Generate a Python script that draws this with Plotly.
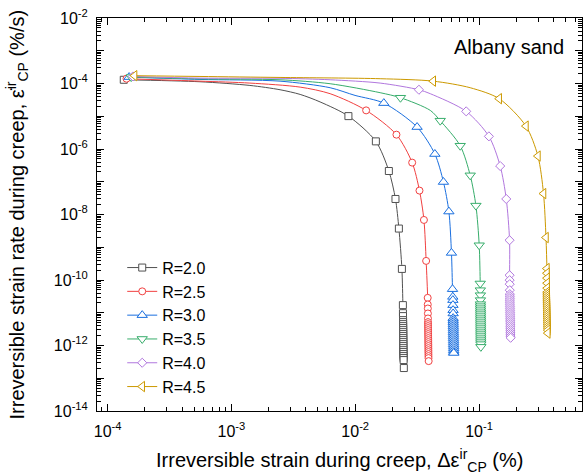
import plotly.graph_objects as go

# ---------------- data ----------------
labels = ["R=2.0", "R=2.5", "R=3.0", "R=3.5", "R=4.0", "R=4.5"]

# R = 2.0  (markers)
r20_mx = [1.35e-4, 8.81e-3, 0.01468, 0.0187, 0.02114, 0.02253, 0.02383, 0.02427, 0.0243, 0.02432,
          0.02435, 0.02436, 0.02437, 0.02438, 0.02439, 0.0244, 0.02441, 0.02442, 0.02443, 0.02444,
          0.02445, 0.02446, 0.02447, 0.02448, 0.02449, 0.0245, 0.02452, 0.02454, 0.02456, 0.02458,
          0.0246, 0.0247]
r20_my = [1.30e-4, 1.01e-5, 1.71e-6, 2.13e-7, 2.98e-8, 3.72e-9, 2.18e-10, 1.71e-11, 9.7e-12, 7.9e-12,
          5.95e-12, 5.18e-12, 4.5e-12, 3.91e-12, 3.40e-12, 2.95e-12, 2.56e-12, 2.23e-12, 1.94e-12, 1.68e-12,
          1.46e-12, 1.27e-12, 1.10e-12, 9.6e-13, 8.3e-13, 7.2e-13, 6.3e-13, 5.47e-13, 4.75e-13, 4.13e-13,
          3.59e-13, 2.05e-13]
# R = 2.0  (extra points along the curve, no marker)
r20_cx = [5.57e-4, 1.41e-3, 2.47e-3, 3.59e-3, 5.2e-3]
r20_cy = [1.13e-4, 8.73e-5, 6.45e-5, 4.64e-5, 2.74e-5]

# R = 2.5
r25_mx = [1.42e-4, 0.01225, 0.02153, 0.02884, 0.03304, 0.0359, 0.0374,
          0.0385, 0.03855, 0.0386, 0.03865, 0.0387,
          0.03872, 0.03874, 0.03876, 0.03878, 0.0388, 0.03882, 0.03884, 0.03886, 0.03888, 0.0389,
          0.03892, 0.03894, 0.03896, 0.03898, 0.039, 0.03902, 0.03904, 0.03906, 0.03908, 0.0392]
r25_my = [1.40e-4, 1.51e-5, 2.74e-6, 3.84e-7, 5.37e-8, 6.82e-9, 3.83e-10,
          2.85e-11, 1.79e-11, 1.35e-11, 9.5e-12, 6.7e-12,
          5.18e-12, 4.5e-12, 3.91e-12, 3.40e-12, 2.95e-12, 2.56e-12, 2.23e-12, 1.94e-12, 1.68e-12, 1.46e-12,
          1.27e-12, 1.10e-12, 9.6e-13, 8.3e-13, 7.2e-13, 6.3e-13, 5.47e-13, 4.75e-13, 4.13e-13, 3.34e-13]
r25_cx = [5.57e-4, 1.41e-3, 3.59e-3, 6.27e-3]
r25_cy = [1.18e-4, 1.03e-4, 7.76e-5, 4.88e-5]

# R = 3.0
r30_mx = [1.49e-4, 0.01703, 0.0316, 0.0440, 0.0516, 0.0571, 0.0599, 0.0611,
          0.0614, 0.0615, 0.0616, 0.0617, 0.0618,
          0.0618, 0.0619, 0.0619, 0.062, 0.062, 0.0621, 0.0621, 0.0621, 0.0622, 0.0622,
          0.0622, 0.0623, 0.0623, 0.0623, 0.0624, 0.0624, 0.0624, 0.0625, 0.0625]
r30_my = [1.57e-4, 2.52e-5, 4.68e-6, 7.02e-7, 9.82e-8, 1.23e-8, 6.71e-10, 5.25e-11,
          3.05e-11, 2.43e-11, 1.71e-11, 1.20e-11, 9.5e-12,
          6.85e-12, 5.95e-12, 5.18e-12, 4.5e-12, 3.91e-12, 3.40e-12, 2.95e-12, 2.56e-12, 2.23e-12, 1.94e-12,
          1.68e-12, 1.46e-12, 1.27e-12, 1.10e-12, 9.6e-13, 8.3e-13, 7.2e-13, 6.3e-13, 5.9e-13]
r30_cx = [5.57e-4, 2.47e-3, 6.27e-3, 9.97e-3]
r30_cy = [1.33e-4, 1.18e-4, 7.43e-5, 4.33e-5]

# R = 3.5
r35_mx = [1.55e-4, 0.0232, 0.0486, 0.0705, 0.0849, 0.0944, 0.1004, 0.1023,
          0.1025, 0.1026, 0.1027,
          0.1027, 0.1028, 0.1028, 0.1029, 0.1029, 0.103, 0.103, 0.103, 0.1031, 0.1031, 0.1031,
          0.1032, 0.1032, 0.1032, 0.1033, 0.1033, 0.1033, 0.1034, 0.1034, 0.1034, 0.1035, 0.1035]
r35_my = [1.57e-4, 3.68e-5, 7.33e-6, 1.26e-6, 1.57e-7, 1.87e-8, 1.15e-9, 7.83e-11,
          4.89e-11, 3.44e-11, 2.43e-11,
          1.83e-11, 1.59e-11, 1.38e-11, 1.20e-11, 1.04e-11, 9.08e-12, 7.9e-12, 6.85e-12, 5.95e-12, 5.18e-12, 4.5e-12,
          3.91e-12, 3.40e-12, 2.95e-12, 2.56e-12, 2.23e-12, 1.94e-12, 1.68e-12, 1.46e-12, 1.27e-12, 1.10e-12, 9.1e-13]
r35_cx = [5.57e-4, 2.47e-3, 6.27e-3, 0.0159, 0.0404]
r35_cy = [1.38e-4, 1.30e-4, 9.84e-5, 5.24e-5, 1.51e-5]

# R = 4.0
r40_mx = [1.60e-4, 0.0327, 0.0788, 0.1202, 0.1483, 0.166, 0.1765,
          0.1766, 0.1768, 0.177, 0.1772,
          0.1773, 0.1774, 0.1775, 0.1776, 0.1777, 0.1778, 0.1779, 0.178, 0.1781, 0.1782, 0.1783,
          0.1784, 0.1785, 0.1786, 0.1787, 0.1788, 0.1789, 0.179, 0.1791, 0.1792, 0.1793, 0.1794, 0.18]
r40_my = [1.64e-4, 6.45e-5, 1.41e-5, 2.43e-6, 3.02e-7, 2.98e-8, 1.64e-9,
          1.40e-10, 9.9e-11, 7.46e-11, 4.89e-11,
          3.70e-11, 3.21e-11, 2.79e-11, 2.43e-11, 2.11e-11, 1.83e-11, 1.59e-11, 1.38e-11, 1.20e-11, 1.04e-11, 9.08e-12,
          7.9e-12, 6.85e-12, 5.95e-12, 5.18e-12, 4.5e-12, 3.91e-12, 3.40e-12, 2.95e-12, 2.56e-12, 2.23e-12, 1.94e-12,
          1.72e-12]
r40_cx = [5.57e-4, 2.47e-3, 6.27e-3, 0.0159, 0.0404]
r40_cy = [1.46e-4, 1.44e-4, 1.30e-4, 1.03e-4, 4.88e-5]

# R = 4.5
r45_mx = [1.65e-4, 0.0427, 0.1456, 0.2394, 0.2992, 0.332, 0.3476, 0.3537,
          0.354, 0.3545, 0.355, 0.3553,
          0.3555, 0.3557, 0.3559, 0.3561, 0.3563, 0.3565, 0.3567, 0.3569, 0.3571, 0.3573,
          0.3575, 0.3577, 0.3579, 0.3581, 0.3583, 0.3585, 0.3587, 0.3589, 0.3591, 0.3593, 0.3595]
r45_my = [1.73e-4, 1.18e-4, 3.44e-5, 5.01e-6, 6.09e-7, 4.35e-8, 1.98e-9, 2.24e-10,
          1.61e-10, 1.14e-10, 8.0e-11, 5.64e-11,
          4.25e-11, 3.70e-11, 3.21e-11, 2.79e-11, 2.43e-11, 2.11e-11, 1.83e-11, 1.59e-11, 1.38e-11, 1.20e-11,
          1.04e-11, 9.08e-12, 7.9e-12, 6.85e-12, 5.95e-12, 5.18e-12, 4.5e-12, 3.91e-12, 3.40e-12, 2.95e-12, 2.39e-12]
r45_cx = [5.57e-4, 2.47e-3, 0.0159, 0.0849]
r45_cy = [1.64e-4, 1.53e-4, 1.40e-4, 7.43e-5]

x_tick_text = ["10<sup>-4</sup>", "10<sup>-3</sup>", "10<sup>-2</sup>", "10<sup>-1</sup>"]
y_tick_text = ["10<sup>-14</sup>", "", "10<sup>-12</sup>", "", "10<sup>-10</sup>", "",
               "10<sup>-8</sup>", "", "10<sup>-6</sup>", "", "10<sup>-4</sup>", "", "10<sup>-2</sup>"]

# ---------------- styling ----------------
colors = ["#515151", "#F14040", "#1A6FDF", "#37AD6B", "#B177DE", "#CC9900"]
symbols = ["square", "circle", "triangle-up", "triangle-down", "diamond", "triangle-left"]
sizes = [7, 7, 9, 9, 7, 9]
FONT = "Liberation Sans, Arial, sans-serif"

series = [
    (r20_mx, r20_my, r20_cx, r20_cy),
    (r25_mx, r25_my, r25_cx, r25_cy),
    (r30_mx, r30_my, r30_cx, r30_cy),
    (r35_mx, r35_my, r35_cx, r35_cy),
    (r40_mx, r40_my, r40_cx, r40_cy),
    (r45_mx, r45_my, r45_cx, r45_cy),
]

fig = go.Figure()

# legend-only entries
for i, lab in enumerate(labels):
    fig.add_trace(go.Scatter(
        x=[None], y=[None], mode="lines+markers", name=lab, legendgroup=lab,
        line=dict(color=colors[i], width=1),
        marker=dict(symbol=symbols[i], size=sizes[i], color="white",
                    line=dict(color=colors[i], width=1)),
    ))

for i, (mx, my, cx, cy) in enumerate(series):
    pts = sorted(list(zip(mx, my)) + list(zip(cx, cy)), key=lambda p: -p[1])
    fig.add_trace(go.Scatter(
        x=[p[0] for p in pts], y=[p[1] for p in pts], mode="lines",
        line=dict(color=colors[i], width=1, shape="spline", smoothing=0.8),
        showlegend=False, legendgroup=labels[i], hoverinfo="skip",
    ))
    fig.add_trace(go.Scatter(
        x=mx, y=my, mode="markers", showlegend=False, legendgroup=labels[i],
        marker=dict(symbol=symbols[i], size=sizes[i], color="white",
                    line=dict(color=colors[i], width=1)),
    ))

x_major = [1e-4, 1e-3, 1e-2, 1e-1]
x_minor = [m * 10.0 ** e for e in range(-5, 0) for m in range(2, 10)]
y_major = [10.0 ** e for e in range(-14, -1)]
y_minor = [m * 10.0 ** e for e in range(-14, -2) for m in range(2, 10)]

axis_common = dict(
    type="log", showline=True, linecolor="black", linewidth=1, mirror="allticks",
    ticks="inside", ticklen=7, tickwidth=1, tickcolor="black", showgrid=False,
    zeroline=False, tickfont=dict(family=FONT, size=16, color="black"),
)

fig.update_xaxes(
    **axis_common, range=[-4.086, -0.168], tickmode="array", tickvals=x_major,
    ticktext=x_tick_text, ticklabelstandoff=6,
    minor=dict(ticks="inside", ticklen=4, tickwidth=1, tickcolor="black",
               tickmode="array", tickvals=x_minor, showgrid=False),
)
fig.update_yaxes(
    **axis_common, range=[-14, -2], tickmode="array", tickvals=y_major,
    ticktext=y_tick_text, ticklabelstandoff=5,
    minor=dict(ticks="inside", ticklen=4, tickwidth=1, tickcolor="black",
               tickmode="array", tickvals=y_minor, showgrid=False),
)

fig.update_layout(
    width=584, height=475,
    margin=dict(l=97, r=2, t=18, b=64, autoexpand=False),
    paper_bgcolor="white", plot_bgcolor="white",
    font=dict(family=FONT, size=18, color="black"),
    showlegend=True,
    legend=dict(x=0.052, y=0.408, xanchor="left", yanchor="top",
                bgcolor="rgba(0,0,0,0)", font=dict(family=FONT, size=16),
                tracegroupgap=0),
    annotations=[
        dict(text="Irreversible strain during creep, Δε<sup>ir</sup><sub>CP</sub> (%)",
             xref="paper", yref="paper", x=0.5, y=0, xanchor="center", yanchor="middle",
             yshift=-49, showarrow=False, font=dict(family=FONT, size=20)),
        dict(text="Irreversible strain rate during creep, \u03b5\u0307<sup>ir</sup><sub>CP</sub> (%/s)",
             xref="paper", yref="paper", x=0, y=0.5, xanchor="center", yanchor="middle",
             xshift=-80, textangle=-90, showarrow=False, font=dict(family=FONT, size=20)),
        dict(text="Albany sand", xref="paper", yref="paper", x=1, y=1,
             xanchor="right", yanchor="middle", xshift=-16, yshift=-29,
             showarrow=False, font=dict(family=FONT, size=20)),
    ],
)

fig.write_html("out.html", config={"displayModeBar": False},
               post_script="document.body.style.margin='0';document.body.style.padding='0';")
